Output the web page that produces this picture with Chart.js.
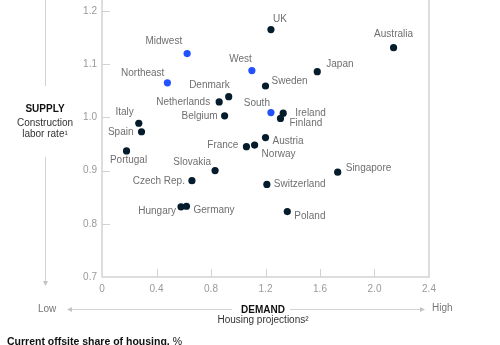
<!DOCTYPE html>
<html>
<head>
<meta charset="utf-8">
<script src="https://cdn.jsdelivr.net/npm/chart.js@4.4.1/dist/chart.umd.min.js"></script>
<style>
  body { margin: 0; background: #fff; font-family: "Liberation Sans", Arial, sans-serif; }
  #wrap { position: relative; width: 500px; height: 345px; overflow: hidden; }
  #wrap canvas { position: absolute; left: 0; top: 0; }
  .t { position: absolute; font-size: 10px; line-height: 12px; color: #333; white-space: nowrap; }
  .c { text-align: center; }
  .b { font-weight: bold; color: #111; }
  .g { color: #777; }
</style>
</head>
<body>
<div id="wrap">
  <canvas id="chart" width="500" height="345"></canvas>
  <div class="t c b" style="left:0;width:90px;top:103px;">SUPPLY</div>
  <div class="t c" style="left:0;width:90px;top:117px;">Construction</div>
  <div class="t c" style="left:0;width:90px;top:128px;">labor rate¹</div>
  <div class="t g" style="left:38px;top:303px;">Low</div>
  <div class="t g" style="left:432px;top:302px;">High</div>
  <div class="t c b" style="left:213px;width:100px;top:304px;">DEMAND</div>
  <div class="t c" style="left:203px;width:120px;top:314px;">Housing projections²</div>
  <div class="t" style="left:7px;top:335px;font-size:10.5px;color:#111;"><b>Current offsite share of housing,</b> %</div>
</div>
<script>
/*** data ***/
const countryNames = ['UK', 'Australia', 'Japan', 'Sweden', 'Denmark', 'Netherlands', 'Belgium', 'Ireland', 'Finland', 'Italy', 'Spain', 'Portugal', 'France', 'Norway', 'Austria', 'Slovakia', 'Czech Rep.', 'Switzerland', 'Singapore', 'Hungary', 'Germany', 'Poland'];
const countryDemand = [1.24, 2.14, 1.58, 1.20, 0.93, 0.86, 0.90, 1.33, 1.31, 0.27, 0.29, 0.18, 1.06, 1.12, 1.20, 0.83, 0.66, 1.21, 1.73, 0.58, 0.62, 1.36];
const countrySupply = [1.165, 1.131, 1.086, 1.059, 1.039, 1.029, 1.003, 1.008, 0.998, 0.989, 0.973, 0.937, 0.945, 0.948, 0.962, 0.900, 0.881, 0.874, 0.897, 0.832, 0.833, 0.823];

const regionNames = ['Midwest', 'Northeast', 'West', 'South'];
const regionDemand = [0.625, 0.48, 1.10, 1.24];
const regionSupply = [1.120, 1.065, 1.088, 1.009];

const xTickLabels = ['0', '0.4', '0.8', '1.2', '1.6', '2.0', '2.4'];
const yTickLabels = ['0.7', '0.8', '0.9', '1.0', '1.1', '1.2'];

// label placement: [dx, dy, align]
const labelPos = {
  'UK': [2, -10, 'left'],
  'Australia': [0, -13, 'center'],
  'Japan': [9, -7, 'left'],
  'Sweden': [6, -5, 'left'],
  'West': [0, -11, 'right'],
  'Midwest': [-5, -12, 'right'],
  'Northeast': [-3, -10, 'right'],
  'Denmark': [1, -11, 'right'],
  'Netherlands': [-9, 0, 'right'],
  'Belgium': [-7, 0, 'right'],
  'South': [-1, -9, 'right'],
  'Ireland': [12, 0, 'left'],
  'Finland': [9, 5, 'left'],
  'Italy': [-5, -11, 'right'],
  'Spain': [-8, 0, 'right'],
  'Portugal': [2, 9, 'center'],
  'France': [-8, -1, 'right'],
  'Norway': [7, 9, 'left'],
  'Austria': [7, 4, 'left'],
  'Slovakia': [-4, -8, 'right'],
  'Czech Rep.': [-7, 1, 'right'],
  'Switzerland': [7, 0, 'left'],
  'Singapore': [8, -4, 'left'],
  'Hungary': [-5, 4, 'right'],
  'Germany': [7, 4, 'left'],
  'Poland': [7, 5, 'left'],
};

const toPoints = (xs, ys) => xs.map((x, i) => ({ x: x, y: ys[i] }));
const lineColor = '#d2d2d2';

/*** plugins ***/
const frame = {
  id: 'frame',
  beforeDatasetsDraw(chart) {
    const { ctx, chartArea, scales } = chart;
    ctx.save();
    ctx.strokeStyle = lineColor;
    ctx.lineWidth = 1.5;
    // axes and right edge
    ctx.beginPath();
    ctx.moveTo(chartArea.left, 0);
    ctx.lineTo(chartArea.left, chartArea.bottom);
    ctx.lineTo(chartArea.right, chartArea.bottom);
    ctx.lineTo(chartArea.right, 0);
    ctx.stroke();
    // inward ticks
    ctx.lineWidth = 1;
    ctx.beginPath();
    scales.y.ticks.forEach((t) => {
      const py = Math.round(scales.y.getPixelForValue(t.value)) + 0.5;
      if (t.value > 0.75) {
        ctx.moveTo(chartArea.left, py);
        ctx.lineTo(chartArea.left + 8, py);
      }
    });
    scales.x.ticks.forEach((t) => {
      const px = Math.round(scales.x.getPixelForValue(t.value)) + 0.5;
      if (t.value > 0.1 && t.value < 2.3) {
        ctx.moveTo(px, chartArea.bottom);
        ctx.lineTo(px, chartArea.bottom - 8);
      }
    });
    ctx.stroke();

    // supply / demand arrows
    ctx.lineWidth = 1;
    ctx.beginPath();
    ctx.moveTo(45.5, 0);
    ctx.lineTo(45.5, 86);
    ctx.moveTo(45.5, 157);
    ctx.lineTo(45.5, 281);
    ctx.moveTo(72, 309.5);
    ctx.lineTo(232, 309.5);
    ctx.moveTo(290, 309.5);
    ctx.lineTo(420, 309.5);
    ctx.stroke();
    ctx.fillStyle = '#c4c4c4';
    ctx.beginPath();
    ctx.moveTo(43, 281); ctx.lineTo(48, 281); ctx.lineTo(45.5, 286); ctx.closePath();
    ctx.moveTo(72, 307); ctx.lineTo(72, 312); ctx.lineTo(67, 309.5); ctx.closePath();
    ctx.moveTo(420, 307); ctx.lineTo(420, 312); ctx.lineTo(425, 309.5); ctx.closePath();
    ctx.fill();
    ctx.restore();
  },
};

const pointLabels = {
  id: 'pointLabels',
  afterDatasetsDraw(chart) {
    const { ctx } = chart;
    ctx.save();
    ctx.font = '10px "Liberation Sans", Arial, sans-serif';
    ctx.fillStyle = '#6f6f6f';
    ctx.textBaseline = 'middle';
    chart.data.datasets.forEach((ds, di) => {
      const meta = chart.getDatasetMeta(di);
      meta.data.forEach((el, i) => {
        const name = ds.names[i];
        const pos = labelPos[name] || [6, 0, 'left'];
        ctx.textAlign = pos[2];
        ctx.fillText(name, el.x + pos[0], el.y + pos[1]);
      });
    });
    ctx.restore();
  },
};

/*** chart ***/
new Chart(document.getElementById('chart'), {
  type: 'scatter',
  data: {
    datasets: [
      {
        label: 'Countries',
        names: countryNames,
        data: toPoints(countryDemand, countrySupply),
        backgroundColor: '#051c2c',
        borderWidth: 0,
        pointRadius: 3.6,
      },
      {
        label: 'US regions',
        names: regionNames,
        data: toPoints(regionDemand, regionSupply),
        backgroundColor: '#2251ff',
        borderWidth: 0,
        pointRadius: 3.6,
      },
    ],
  },
  options: {
    responsive: false,
    animation: false,
    layout: { padding: { left: 0, right: 71, top: 5, bottom: 48 } },
    plugins: {
      legend: { display: false },
      tooltip: { enabled: false },
    },
    scales: {
      x: {
        min: 0,
        max: 2.4,
        afterFit: (scale) => { scale.height = 20; },
        border: { display: false },
        grid: { display: false, drawTicks: false },
        ticks: {
          stepSize: 0.4,
          padding: 6,
          color: '#9a9a9a',
          font: { size: 10, family: '"Liberation Sans", Arial, sans-serif' },
          callback: (v, i) => xTickLabels[i],
        },
      },
      y: {
        min: 0.7,
        max: 1.2,
        afterFit: (scale) => { scale.width = 102; },
        border: { display: false },
        grid: { display: false, drawTicks: false },
        ticks: {
          stepSize: 0.1,
          padding: 5,
          color: '#9a9a9a',
          font: { size: 10, family: '"Liberation Sans", Arial, sans-serif' },
          callback: (v, i) => yTickLabels[i],
        },
      },
    },
  },
  plugins: [frame, pointLabels],
});
</script>
</body>
</html>
